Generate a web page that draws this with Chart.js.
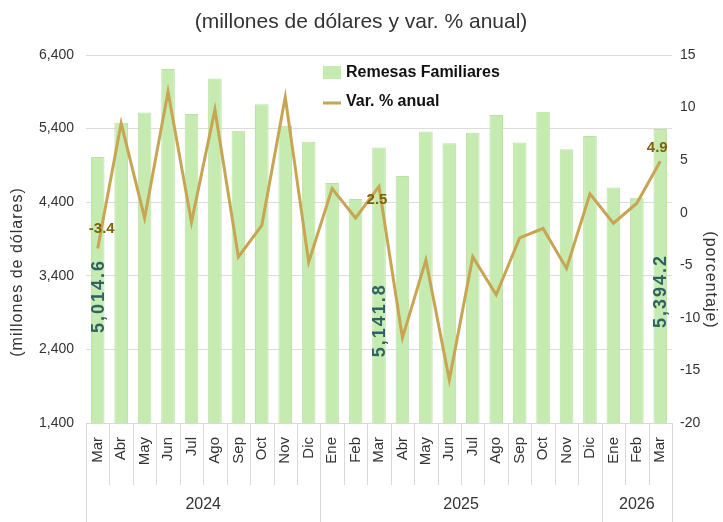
<!DOCTYPE html>
<html>
<head>
<meta charset="utf-8">
<script src="https://cdn.jsdelivr.net/npm/chart.js@4.4.1/dist/chart.umd.min.js"></script>
<style>
html,body{margin:0;padding:0;background:#fff;}
#wrap{width:723px;height:522px;position:relative;}
</style>
</head>
<body>
<div id="wrap"><canvas id="c" width="723" height="522"></canvas></div>
<script>
const months = ["Mar","Abr","May","Jun","Jul","Ago","Sep","Oct","Nov","Dic","Ene","Feb","Mar","Abr","May","Jun","Jul","Ago","Sep","Oct","Nov","Dic","Ene","Feb","Mar"];
const yearLabels = ["2024","2025","2026"];
const yearSpans = [10, 12, 3];
const remesas = [5014.6,5480,5620,6210,5600,6080,5370,5730,5440,5220,4660,4445,5141.8,4755,5360,5200,5345,5585,5210,5630,5120,5300,4600,4460,5394.2];
const variacion = [-3.4,8.5,-0.5,11.5,-0.9,9.8,-4.2,-1.2,11.0,-4.7,2.3,-0.5,2.5,-11.9,-4.5,-15.9,-4.2,-7.8,-2.4,-1.5,-5.3,1.8,-1.0,0.9,4.9];
const barLabelIdx = [0, 12, 24];
const lineLabelIdx = [0, 12, 24];
const leftTicks = [1400, 6400, 1000];
const rightTicks = [-20, 15, 5];

const BAR_COLOR = '#c6ebb1';
const LINE_COLOR = '#c7a552';
const TICK_FONT = '"Liberation Sans Narrow", "Liberation Sans", sans-serif';
const MAIN_FONT = '"Liberation Sans", sans-serif';

function fmt(v, d) {
  return v.toLocaleString('en-US', {minimumFractionDigits: d, maximumFractionDigits: d});
}

function rotText(ctx, text, x, y, ang) {
  ctx.save();
  ctx.translate(x, y);
  ctx.rotate(ang);
  ctx.textAlign = 'center';
  ctx.textBaseline = 'middle';
  ctx.fillText(text, 0, 0);
  ctx.restore();
}

const overlay = {
  id: 'overlay',
  afterDraw(chart) {
    const ctx = chart.ctx;
    const xs = chart.scales.x;
    const area = chart.chartArea;
    ctx.save();
    // title
    ctx.fillStyle = '#333';
    ctx.font = '21px ' + MAIN_FONT;
    ctx.textAlign = 'center';
    ctx.textBaseline = 'middle';
    ctx.fillText('(millones de dólares y var. % anual)', 361, 22);

    // axis titles
    ctx.font = '16px ' + MAIN_FONT;
    ctx.letterSpacing = '1px';
    rotText(ctx, '(millones de dólares)', 18, 272, -Math.PI / 2);
    rotText(ctx, '(porcentaje)', 710, 280, Math.PI / 2);
    ctx.letterSpacing = '0px';

    // category separators in label area
    ctx.strokeStyle = '#d9d9d9';
    ctx.lineWidth = 1;
    const step = xs.getPixelForValue(1) - xs.getPixelForValue(0);
    for (let i = 0; i <= months.length; i++) {
      const x = Math.round(xs.getPixelForValue(i) - step / 2) + 0.5;
      ctx.beginPath();
      ctx.moveTo(x, area.bottom);
      ctx.lineTo(x, area.bottom + 62);
      ctx.stroke();
    }
    // year separators and labels
    let start = 0;
    ctx.fillStyle = '#333';
    ctx.font = '16px ' + TICK_FONT;
    for (let g = 0; g < yearLabels.length; g++) {
      const end = start + yearSpans[g];
      const x0 = xs.getPixelForValue(start) - step / 2;
      const x1 = xs.getPixelForValue(end - 1) + step / 2;
      [x0, x1].forEach(x => {
        ctx.beginPath();
        ctx.moveTo(Math.round(x) + 0.5, area.bottom);
        ctx.lineTo(Math.round(x) + 0.5, 522);
        ctx.stroke();
      });
      ctx.fillText(yearLabels[g], (x0 + x1) / 2, 505);
      start = end;
    }
    // bottom axis line
    ctx.beginPath();
    ctx.moveTo(area.left, area.bottom + 0.5);
    ctx.lineTo(area.right, area.bottom + 0.5);
    ctx.stroke();

    // bar data labels
    const barMeta = chart.getDatasetMeta(0);
    ctx.fillStyle = '#2f6363';
    ctx.font = 'bold 18px ' + MAIN_FONT;
    ctx.letterSpacing = '2px';
    const barOffs = [6, 35, 15];
    barLabelIdx.forEach((i, k) => {
      const el = barMeta.data[i];
      const yc = (el.y + area.bottom) / 2 + barOffs[k];
      rotText(ctx, fmt(remesas[i], 1), el.x + 1, yc, -Math.PI / 2);
    });
    ctx.letterSpacing = '0px';
    // line data labels
    const lineMeta = chart.getDatasetMeta(1);
    ctx.fillStyle = '#7d6209';
    ctx.font = 'bold 15px ' + MAIN_FONT;
    ctx.textAlign = 'center';
    ctx.textBaseline = 'middle';
    const offs = [[4, -20], [-2, 13], [-3, -13]];
    lineLabelIdx.forEach((i, k) => {
      const el = lineMeta.data[i];
      ctx.fillText(fmt(variacion[i], 1), el.x + offs[k][0], el.y + offs[k][1]);
    });

    // legend
    ctx.fillStyle = BAR_COLOR;
    ctx.fillRect(323, 66, 18, 13);
    ctx.strokeStyle = LINE_COLOR;
    ctx.lineWidth = 3;
    ctx.beginPath();
    ctx.moveTo(323, 103);
    ctx.lineTo(341, 103);
    ctx.stroke();
    ctx.fillStyle = '#111';
    ctx.font = 'bold 16px ' + MAIN_FONT;
    ctx.textAlign = 'left';
    ctx.fillText('Remesas Familiares', 346, 73);
    ctx.fillText('Var. % anual', 346, 102);
    ctx.restore();
  }
};

new Chart(document.getElementById('c'), {
  data: {
    labels: months,
    datasets: [
      {
        type: 'bar',
        label: 'Remesas Familiares',
        data: remesas,
        backgroundColor: BAR_COLOR,
        borderColor: '#b9e2a2',
        borderWidth: 1,
        categoryPercentage: 1.0,
        barPercentage: 0.58,
        yAxisID: 'y',
        order: 2
      },
      {
        type: 'line',
        label: 'Var. % anual',
        data: variacion,
        borderColor: LINE_COLOR,
        borderWidth: 3,
        pointRadius: 0,
        tension: 0,
        yAxisID: 'y1',
        order: 1
      }
    ]
  },
  options: {
    responsive: false,
    animation: false,
    layout: {padding: {top: 55, left: 0, right: 0, bottom: 0}},
    plugins: {legend: {display: false}, tooltip: {enabled: false}, title: {display: false}},
    scales: {
      x: {
        offset: true,
        grid: {display: false},
        border: {display: false},
        ticks: {
          minRotation: 90, maxRotation: 90, autoSkip: false, padding: 6,
          color: '#333', font: {family: MAIN_FONT, size: 15}
        },
        afterFit(s) { s.height = 99; }
      },
      y: {
        position: 'left',
        min: leftTicks[0], max: leftTicks[1],
        ticks: {
          stepSize: leftTicks[2], color: '#333', padding: 12,
          font: {family: TICK_FONT, size: 14},
          callback: v => fmt(v, 0)
        },
        grid: {color: '#dcdcdc', drawTicks: false},
        border: {display: false},
        afterFit(s) { s.width = 86; }
      },
      y1: {
        position: 'right',
        min: rightTicks[0], max: rightTicks[1],
        ticks: {
          stepSize: rightTicks[2], color: '#333', padding: 8,
          font: {family: TICK_FONT, size: 14}
        },
        grid: {display: false, drawTicks: false},
        border: {display: false},
        afterFit(s) { s.width = 51; }
      }
    }
  },
  plugins: [overlay]
});
</script>
</body>
</html>
